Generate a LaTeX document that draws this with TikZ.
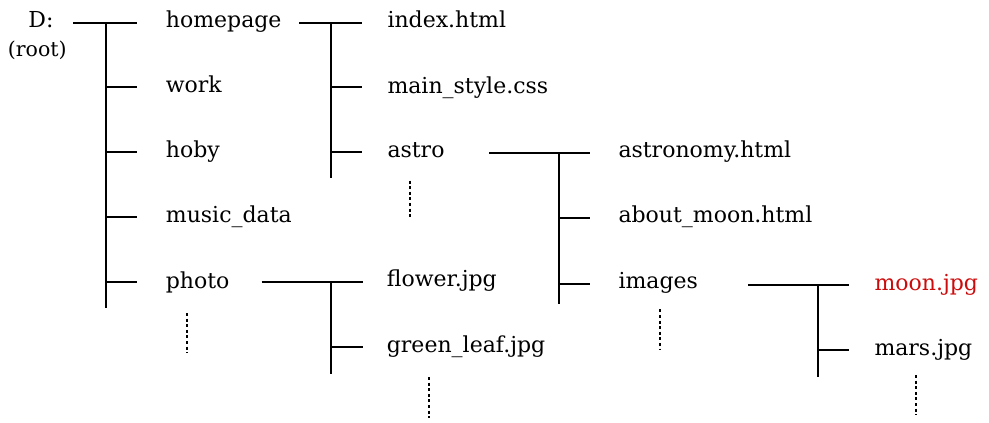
\documentclass[tikz,border=0pt]{standalone}
\usepackage{fontspec}
\setmainfont{DejaVu Serif}
\definecolor{moonred}{RGB}{204,12,12}
\begin{document}
\begin{tikzpicture}[x=1pt,y=-1pt,
  tree/.style={line width=1.9pt},
  more/.style={line width=1.6pt,dash pattern=on 3pt off 2.6pt},
  item/.style={anchor=base west,inner sep=0pt,font=\fontsize{22}{26}\selectfont},
  rootlbl/.style={anchor=base,inner sep=0pt,font=\fontsize{20.5}{24}\selectfont}]
\useasboundingbox (0,0) rectangle (989,423);
% labels
\node[rootlbl,font=\fontsize{22}{26}\selectfont] (D) at (41,27.3) {D:};
\node[rootlbl] (root) at (37.3,56.5) {(root)};
\node[item] (homepage) at (165.7,27.3) {homepage};
\node[item] (work) at (165.7,92.5) {work};
\node[item] (hoby) at (165.7,157.7) {hoby};
\node[item] (music) at (165.7,222.8) {music\_data};
\node[item] (photo) at (165.7,288) {photo};
\node[item] (index) at (387.3,27.3) {index.html};
\node[item] (mainstyle) at (387.3,93.3) {main\_style.css};
\node[item] (astro) at (387.3,157.7) {astro};
\node[item] (flower) at (386.7,286.5) {flower.jpg};
\node[item] (green) at (386.7,352.8) {green\_leaf.jpg};
\node[item] (astronomy) at (618.3,157.7) {astronomy.html};
\node[item] (aboutmoon) at (618.3,222) {about\_moon.html};
\node[item] (images) at (618.3,288.3) {images};
\node[item,text=moonred] (moon) at (874.3,290) {moon.jpg};
\node[item] (mars) at (874.3,355.5) {mars.jpg};
% root tree
\coordinate (r0) at (73,22.7);
\coordinate (r1) at (137,22.7);
\coordinate (rt) at (106,22.7);
\coordinate (rb) at (106,308);
\coordinate (rw0) at (106,87.3);   \coordinate (rw1) at (137,87.3);
\coordinate (rh0) at (106,152.3);  \coordinate (rh1) at (137,152.3);
\coordinate (rm0) at (106,217.3);  \coordinate (rm1) at (137,217.3);
\coordinate (rp0) at (106,281.7);  \coordinate (rp1) at (137,281.7);
\draw[tree] (r0) -- (r1);
\draw[tree] (rt) -- (rb);
\draw[tree] (rw0) -- (rw1);
\draw[tree] (rh0) -- (rh1);
\draw[tree] (rm0) -- (rm1);
\draw[tree] (rp0) -- (rp1);
% homepage tree
\coordinate (h0) at (299.3,22.7);
\coordinate (h1) at (362,22.7);
\coordinate (ht) at (331,22.7);
\coordinate (hb) at (331,178.3);
\coordinate (hm0) at (331,87.3);  \coordinate (hm1) at (362,87.3);
\coordinate (ha0) at (331,152.3); \coordinate (ha1) at (362,152.3);
\draw[tree] (h0) -- (h1);
\draw[tree] (ht) -- (hb);
\draw[tree] (hm0) -- (hm1);
\draw[tree] (ha0) -- (ha1);
% photo tree
\coordinate (p0) at (261.7,281.7);
\coordinate (p1) at (362.7,281.7);
\coordinate (pt) at (331,281.7);
\coordinate (pb) at (331,374);
\coordinate (pg0) at (331,347.3); \coordinate (pg1) at (362.7,347.3);
\draw[tree] (p0) -- (p1);
\draw[tree] (pt) -- (pb);
\draw[tree] (pg0) -- (pg1);
% astro tree
\coordinate (a0) at (489.3,152.7);
\coordinate (a1) at (590,152.7);
\coordinate (at) at (559,152.7);
\coordinate (ab) at (559,304.3);
\coordinate (am0) at (559,217.7); \coordinate (am1) at (590,217.7);
\coordinate (ai0) at (559,283.7); \coordinate (ai1) at (590,283.7);
\draw[tree] (a0) -- (a1);
\draw[tree] (at) -- (ab);
\draw[tree] (am0) -- (am1);
\draw[tree] (ai0) -- (ai1);
% images tree
\coordinate (i0) at (748.3,285);
\coordinate (i1) at (849.3,285);
\coordinate (it) at (818.3,285);
\coordinate (ib) at (818.3,376.7);
\coordinate (im0) at (818.3,350); \coordinate (im1) at (849.3,350);
\draw[tree] (i0) -- (i1);
\draw[tree] (it) -- (ib);
\draw[tree] (im0) -- (im1);
% continuation dots
\coordinate (d1a) at (410,180.5); \coordinate (d1b) at (410,219);
\coordinate (d2a) at (187,313);   \coordinate (d2b) at (187,352.7);
\coordinate (d3a) at (429,377);   \coordinate (d3b) at (429,418);
\coordinate (d4a) at (660,309.3); \coordinate (d4b) at (660,349);
\coordinate (d5a) at (916,375);   \coordinate (d5b) at (916,415);
\draw[more] (d1a) -- (d1b);
\draw[more] (d2a) -- (d2b);
\draw[more] (d3a) -- (d3b);
\draw[more] (d4a) -- (d4b);
\draw[more] (d5a) -- (d5b);
\end{tikzpicture}
\end{document}
